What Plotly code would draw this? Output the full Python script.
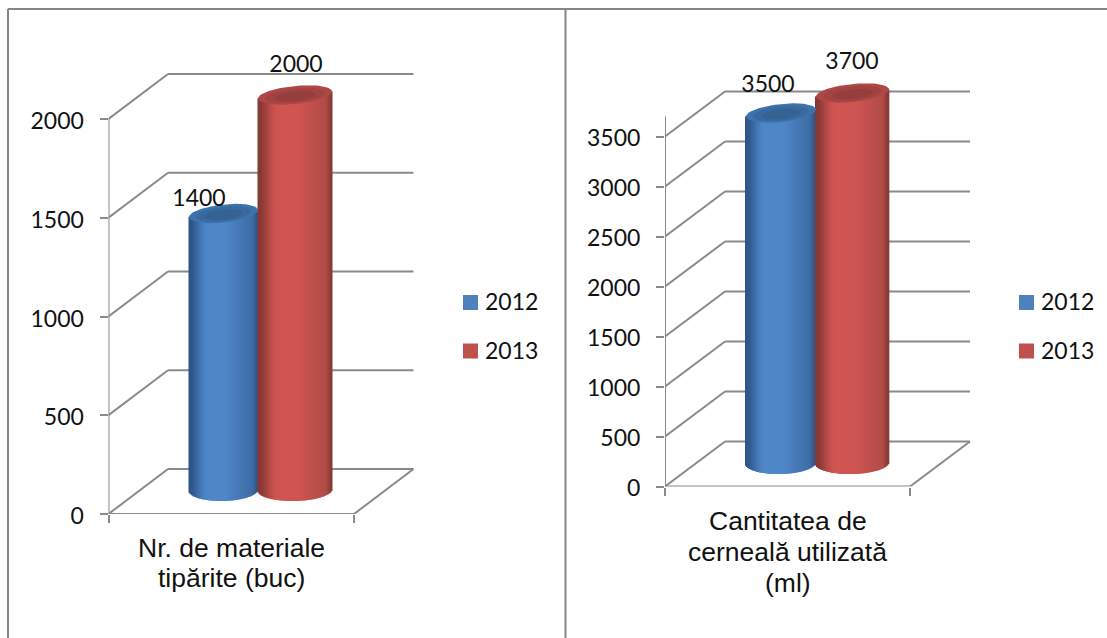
import numpy as np
import plotly.graph_objects as go

W, H = 1107, 638

# ---- data ----
years = ["2012", "2013"]
categories_left = ["Nr. de materiale", "tipărite (buc)"]
values_left = [1400, 2000]
ticks_left = [0, 500, 1000, 1500, 2000]
categories_right = ["Cantitatea de", "cerneală utilizată", "(ml)"]
values_right = [3500, 3700]
ticks_right = [0, 500, 1000, 1500, 2000, 2500, 3000, 3500]

# ---- styling ----
TICK_FONT = dict(family="Lato, Carlito, sans-serif", size=23, color="#111111")
CAT_FONT = dict(family="Liberation Sans, Arial, sans-serif", size=26.5, color="#111111")
GREY = "#8a8a8a"
SIDE = [
    {"edge": (45, 85, 135), "mid": (78, 134, 200), "right": (62, 108, 165),
     "caps": ["#3e72ad", "#396a9f", "#356292"], "key": "#4f81bd"},
    {"edge": (135, 55, 52), "mid": (207, 85, 82), "right": (178, 76, 72),
     "caps": ["#ad4846", "#a24341", "#953e3d"], "key": "#c0504d"},
]

PANELS = [
    dict(ax="", x0=108.5, xf=354, xb=413.5, xend=560, y0=514, k=(514 - 119) / 2000, top_px=30, floor_dy=45, floor_dx=59.5,
         vals=values_left, ticks=ticks_left, cats=categories_left, wall_max=2000, axis_max=2000,
         cyl=[(189, 258), (258, 332)], base_y=490, bb=11, tb=9,
         lab=[(199, 200), (296, 66)], cat_x=231.5, cat_y=[548, 578],
         key_x=470.5, text_x=485, key_y=[302.5, 351], shift=2),
    dict(ax="2", x0=665, xf=910, xb=971, xend=1106, y0=486.5, k=0.1, top_px=30, floor_dy=45, floor_dx=60,
         vals=values_right, ticks=ticks_right, cats=categories_right, wall_max=3500, axis_max=3700,
         cyl=[(746, 816), (816, 889)], base_y=463, bb=11, tb=9,
         lab=[(768, 86), (852, 63)], cat_x=787.5, cat_y=[521, 552, 583],
         key_x=1026.5, text_x=1041, key_y=[302.5, 351], shift=1),
]

fig = go.Figure()
shapes = []
annots = []


def line(xa, ya, xb, yb, ax, color=GREY, width=2):
    shapes.append(dict(type="line", xref="x" + ax, yref="y" + ax, x0=xa, y0=ya, x1=xb, y1=yb,
                       layer="below", line=dict(color=color, width=width)))


for pi, p in enumerate(PANELS):
    ax = p["ax"]
    k = p["k"]
    y0 = p["y0"]
    fx = p["xf"] - p["x0"]            # front axis width in px = 1 x unit
    to_x = lambda px: (np.asarray(px) - p["x0"]) / fx
    to_y = lambda py: (y0 - py) / k
    dx_u = p["floor_dx"] / fx
    dy_u = p["floor_dy"] / k

    # wall grid lines
    for t in p["ticks"]:
        line(0, t, dx_u, t + dy_u, ax)
        line(dx_u, t + dy_u, 1 + dx_u, t + dy_u, ax)
    line(1, 0, 1 + dx_u, dy_u, ax)
    line(0, 0, 1, 0, ax)
    line(0, 0, 0, p["axis_max"], ax)

    # cylinders
    base_v = to_y(p["base_y"])
    for i, (xa, xb) in enumerate(p["cyl"]):
        s = SIDE[i]
        a = (xb - xa) / 2
        c = (xa + xb) / 2
        n = int(xb - xa)
        t = (np.arange(n) + 0.5) / n * 2 - 1    # -1..1 across the cylinder
        px = c + a * t
        low = p["bb"] * np.sqrt(1 - t ** 2) / k
        v = p["vals"][i]
        base = base_v - low + 0.8 * t / k
        top = base_v + v + 3.5 * t / k
        cols = []
        for tt in t:
            if tt < -0.2:
                f = min(1, (tt + 1) / 0.55)
                f = f * f * (3 - 2 * f)
                col = [s["edge"][j] + (s["mid"][j] - s["edge"][j]) * f for j in range(3)]
            elif tt < 0.85:
                f = max(0, (tt - 0.1) / 0.75)
                col = [s["mid"][j] + (s["right"][j] - s["mid"][j]) * f for j in range(3)]
            else:
                f = (tt - 0.85) / 0.15
                col = [s["right"][j] + (s["edge"][j] - s["right"][j]) * f for j in range(3)]
            cols.append("rgb(%d,%d,%d)" % tuple(col))
        fig.add_trace(go.Bar(
            x=to_x(px), base=base,
            y=top - base,
            width=1.7 / fx,
            marker=dict(color=cols, line=dict(width=0)),
            xaxis="x" + ax, yaxis="y" + ax, showlegend=False, hoverinfo="skip",
        ))
        # top cap as nested ellipses
        th = np.linspace(0, 2 * np.pi, 73)
        for scale, col, shift in zip((1.0, 0.8, 0.55), s["caps"], (0, 0.6, 1.2)):
            ex = c + a * scale * np.cos(th)
            ey_px = scale * p["tb"] * np.sin(th) + shift
            tilt = 3.5 * scale * np.cos(th)
            fig.add_trace(go.Scatter(
                x=to_x(ex), y=base_v + v - (ey_px - tilt) / k,
                mode="lines", fill="toself", fillcolor=col, line=dict(width=0, color=col),
                xaxis="x" + ax, yaxis="y" + ax, showlegend=False, hoverinfo="skip",
            ))

    # data labels
    for i, (lx, ly) in enumerate(p["lab"]):
        fig.add_trace(go.Scatter(
            x=[to_x(lx)], y=[to_y(ly)], mode="text", text=[str(p["vals"][i])],
            textposition="middle center", textfont=TICK_FONT, cliponaxis=False,
            xaxis="x" + ax, yaxis="y" + ax, showlegend=False, hoverinfo="skip",
        ))

    # colour key beside each chart
    for i, yr in enumerate(years):
        fig.add_trace(go.Scatter(
            x=[to_x(p["key_x"])], y=[to_y(p["key_y"][i])], mode="markers", name=yr, cliponaxis=False,
            marker=dict(symbol="square", size=15, color=SIDE[i]["key"], line=dict(width=0)),
            xaxis="x" + ax, yaxis="y" + ax, showlegend=False, hoverinfo="name",
        ))
        fig.add_trace(go.Scatter(
            x=[to_x(p["text_x"])], y=[to_y(p["key_y"][i] + 2)], mode="text", text=[yr], cliponaxis=False,
            textposition="middle right", textfont=TICK_FONT,
            xaxis="x" + ax, yaxis="y" + ax, showlegend=False, hoverinfo="skip",
        ))

    # category text, line by line
    for txt, cy in zip(p["cats"], p["cat_y"]):
        annots.append(dict(x=float(to_x(p["cat_x"])), xref="x" + ax, y=1 - cy / H, yref="paper", text=txt,
                           showarrow=False, xanchor="center", yanchor="middle", font=CAT_FONT))

    top_val = (y0 - p["top_px"]) / k
    xd = [p["x0"] / W, p["xend"] / W]
    yd = [1 - y0 / H, 1 - p["top_px"] / H]
    fig.layout["xaxis" + ax] = dict(
        domain=xd, range=[0, (p["xend"] - p["x0"]) / fx], anchor="y" + ax, showgrid=False, zeroline=False,
        automargin=False,
        showline=False, tickvals=[0, 1], ticktext=["", ""], ticks="outside", ticklen=8, tickcolor=GREY, tickwidth=2,
    )
    fig.layout["yaxis" + ax] = dict(
        domain=yd, range=[0, top_val], anchor="x" + ax, showgrid=False, zeroline=False, showline=False,
        automargin=False,
        tickvals=p["ticks"], ticktext=[str(t) for t in p["ticks"]], ticks="outside", ticklen=8,
        tickcolor=GREY, tickwidth=2, tickfont=TICK_FONT, ticklabelstandoff=11, ticklabelshift=p["shift"],
    )

# frame: top rule, left rule and the divider run off the page
for (a, b, c, d) in [(8, 9, 1107, 9), (8, 9, 8, 638), (565.5, 9, 565.5, 638)]:
    shapes.append(dict(type="line", xref="paper", yref="paper", x0=a / W, x1=c / W, y0=1 - b / H, y1=1 - d / H,
                       layer="below", line=dict(color="#858585", width=2)))

fig.update_layout(
    width=W, height=H, margin=dict(l=0, r=0, t=0, b=0, autoexpand=False), paper_bgcolor="white",
    plot_bgcolor="rgba(0,0,0,0)", barmode="overlay", shapes=shapes, annotations=annots, showlegend=False,
)
fig.write_html("out.html", config={"displayModeBar": False},
               post_script="document.body.style.margin='0';document.documentElement.style.overflow='hidden';")
